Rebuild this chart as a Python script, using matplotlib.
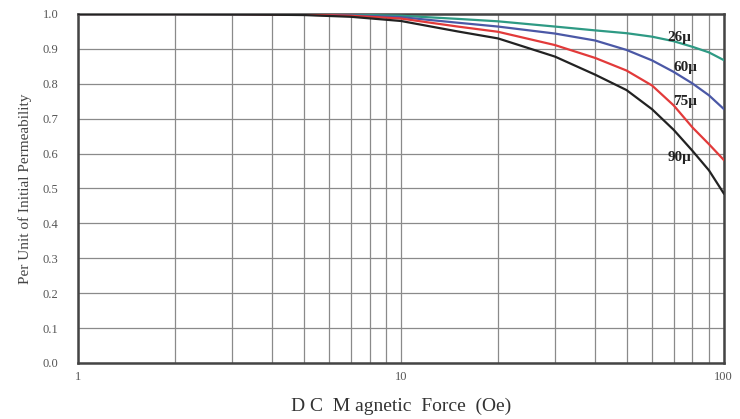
import matplotlib.pyplot as plt
from matplotlib.ticker import FixedLocator, NullFormatter

# DC bias curves
force = [1, 2, 3, 5, 7, 10, 15, 20, 30, 40, 50, 60, 70, 80, 90, 100]
mu26 = [1.0, 1.0, 1.0, 0.999, 0.998, 0.995, 0.986, 0.979, 0.964, 0.953, 0.945, 0.935, 0.922, 0.906, 0.89, 0.868]
mu60 = [1.0, 1.0, 1.0, 0.999, 0.996, 0.991, 0.975, 0.964, 0.944, 0.924, 0.897, 0.867, 0.834, 0.801, 0.767, 0.728]
mu75 = [1.0, 1.0, 1.0, 0.998, 0.995, 0.987, 0.964, 0.949, 0.911, 0.874, 0.838, 0.795, 0.738, 0.675, 0.627, 0.582]
mu90 = [1.0, 1.0, 0.999, 0.997, 0.992, 0.98, 0.95, 0.93, 0.878, 0.826, 0.782, 0.727, 0.668, 0.608, 0.552, 0.486]

labels = ['26\u03bc', '60\u03bc', '75\u03bc', '90\u03bc']
label_pos = [(73, 0.934), (76, 0.848), (76, 0.75), (73, 0.59)]
colors = ['#2e9a84', '#4b58a6', '#e23a3a', '#222222']

plt.rcParams['font.family'] = ['Liberation Serif', 'DejaVu Serif']

fig = plt.figure(figsize=(7.4, 4.19), dpi=100)
ax = fig.add_axes([0.1054, 0.1337, 0.8726, 0.8329])

for series, c in zip([mu26, mu60, mu75, mu90], colors):
    ax.plot(force, series, color=c, lw=1.6, zorder=3)

for text, (x, y) in zip(labels, label_pos):
    ax.text(x, y, text, fontsize=11, fontweight='bold', color='#222222',
            ha='center', va='center', zorder=4)

ax.set_xscale('log')
ax.set_xlim(1, 100)
ax.set_ylim(0, 1.0)
ax.xaxis.set_major_locator(FixedLocator([1, 10, 100]))
ax.xaxis.set_minor_locator(FixedLocator([2, 3, 4, 5, 6, 7, 8, 9, 20, 30, 40, 50, 60, 70, 80, 90]))
ax.xaxis.set_minor_formatter(NullFormatter())
ax.set_xticklabels(['1', '10', '100'])
ax.set_yticks([i / 10 for i in range(11)])
ax.set_yticklabels(['%.1f' % (i / 10) for i in range(11)])

ax.grid(True, which='both', axis='x', color='#8a8a8a', lw=0.9)
ax.grid(True, which='major', axis='y', color='#8a8a8a', lw=0.9)
ax.tick_params(which='both', length=0, labelsize=9, colors='#555555')
ax.tick_params(axis='x', pad=6)
ax.tick_params(axis='y', pad=14)
for s in ax.spines.values():
    s.set_color('#444444')
    s.set_linewidth(1.8)

ax.set_ylabel('Per Unit of Initial Permeability', fontsize=11, color='#444444', labelpad=8)
ax.set_xlabel('D C  M agnetic  Force  (Oe)', fontsize=14, color='#333333', labelpad=10)

fig.savefig('out.png', dpi=100)
